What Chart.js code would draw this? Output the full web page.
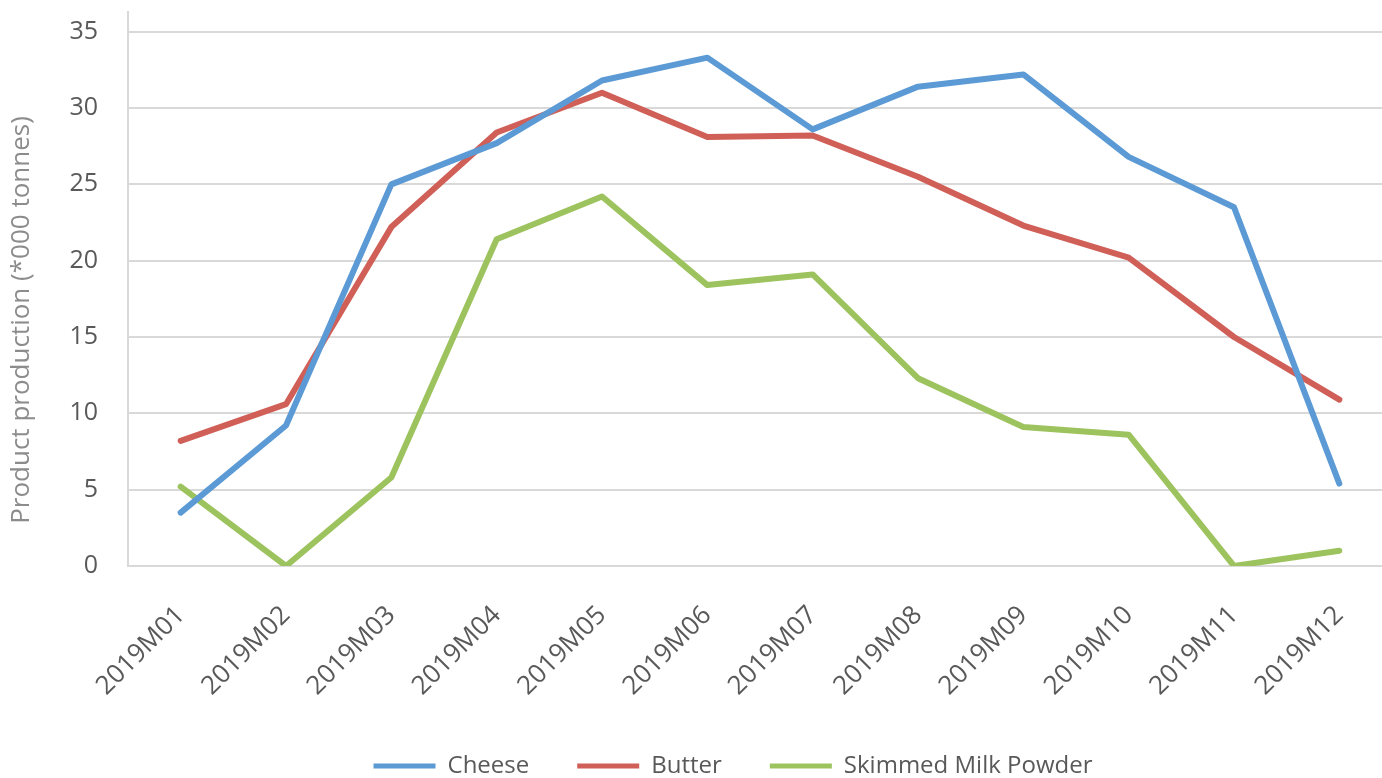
<!DOCTYPE html>
<html>
<head>
<meta charset="utf-8">
<script src="https://cdn.jsdelivr.net/npm/chart.js@4/dist/chart.umd.min.js"></script>
<style>
  html, body { margin: 0; padding: 0; background: #fff; overflow: hidden; }
  #wrap { width: 1400px; height: 778px; }
</style>
</head>
<body>
<div id="wrap"><canvas id="c" width="1400" height="778"></canvas></div>
<script>
// Monthly dairy product production, thousand tonnes
const months = ['2019M01','2019M02','2019M03','2019M04','2019M05','2019M06',
                '2019M07','2019M08','2019M09','2019M10','2019M11','2019M12'];
const cheese = [3.5, 9.2, 25.0, 27.7, 31.8, 33.3, 28.6, 31.4, 32.2, 26.8, 23.5, 5.4];
const butter = [8.2, 10.6, 22.2, 28.4, 31.0, 28.1, 28.2, 25.5, 22.3, 20.2, 15.0, 10.9];
const skimmedMilkPowder = [5.2, 0.0, 5.8, 21.4, 24.2, 18.4, 19.1, 12.3, 9.1, 8.6, 0.0, 1.0];
const yTicks = [0, 5, 10, 15, 20, 25, 30, 35];
const yTitle = 'Product production (*000 tonnes)';

const FONT = '"Open Sans", sans-serif';
const TEXT = '#595959';

function series(label, data, color) {
  return {
    label, data,
    borderColor: color, backgroundColor: color,
    borderWidth: 6, pointRadius: 0, pointHoverRadius: 0,
    tension: 0, borderCapStyle: 'round', borderJoinStyle: 'round', fill: false
  };
}

// Places the legend row and draws the vertical axis title beside the value axis
const layoutTweaks = {
  id: 'layoutTweaks',
  afterLayout(chart) {
    const lg = chart.legend;
    const dx = 37;
    lg.left += dx; lg.right += dx;
    const h = lg.bottom - lg.top;
    lg.top = 706; lg.bottom = 706 + h;
  },
  afterDraw(chart) {
    const ctx = chart.ctx;
    ctx.save();
    ctx.translate(22, 320);
    ctx.rotate(-Math.PI / 2);
    ctx.font = '26px ' + FONT;
    ctx.fillStyle = '#8c8c8c';
    ctx.textAlign = 'center';
    ctx.textBaseline = 'middle';
    ctx.fillText(yTitle, 0, 0);
    ctx.restore();
  }
};

new Chart(document.getElementById('c'), {
  type: 'line',
  data: {
    labels: months,
    datasets: [
      series('Cheese', cheese, '#5b9ad5'),
      series('Butter', butter, '#d05f58'),
      series('Skimmed Milk Powder', skimmedMilkPowder, '#9dc35e')
    ]
  },
  plugins: [layoutTweaks],
  options: {
    responsive: false,
    animation: false,
    layout: { padding: { left: 0, right: 8, top: 12, bottom: 0 } },
    plugins: {
      tooltip: { enabled: false },
      legend: {
        position: 'bottom',
        labels: {
          font: { family: FONT, size: 24 },
          color: TEXT,
          boxWidth: 62, boxHeight: 5,
          padding: 48,
          generateLabels(chart) {
            return chart.data.datasets.map((ds, i) => ({
              text: ds.label, fillStyle: ds.borderColor, strokeStyle: ds.borderColor,
              lineWidth: 0, hidden: false, datasetIndex: i, fontColor: TEXT
            }));
          }
        }
      }
    },
    scales: {
      x: {
        offset: true,
        grid: { display: false, drawTicks: false },
        border: { display: false },
        ticks: {
          autoSkip: false, maxRotation: 45, minRotation: 45,
          font: { family: FONT, size: 26 }, color: TEXT, padding: 34
        },
        afterFit(scale) {
          const lh = scale.chart.legend ? scale.chart.legend.height : 0;
          scale.height = 778 - 566 - lh;
          scale.paddingLeft = 0; scale.paddingRight = 0;
        }
      },
      y: {
        min: 0, max: 36.29,
        afterBuildTicks(scale) { scale.ticks = yTicks.map(v => ({ value: v })); },
        grid: { color: '#d9d9d9', lineWidth: 2, drawTicks: false },
        border: { display: true, color: '#d9d9d9', width: 2 },
        ticks: { font: { family: FONT, size: 25 }, color: TEXT, padding: 30 },
        afterFit(scale) {
          scale.width = 128;
          scale.paddingTop = 0; scale.paddingBottom = 0;
        }
      }
    }
  }
});
</script>
</body>
</html>
